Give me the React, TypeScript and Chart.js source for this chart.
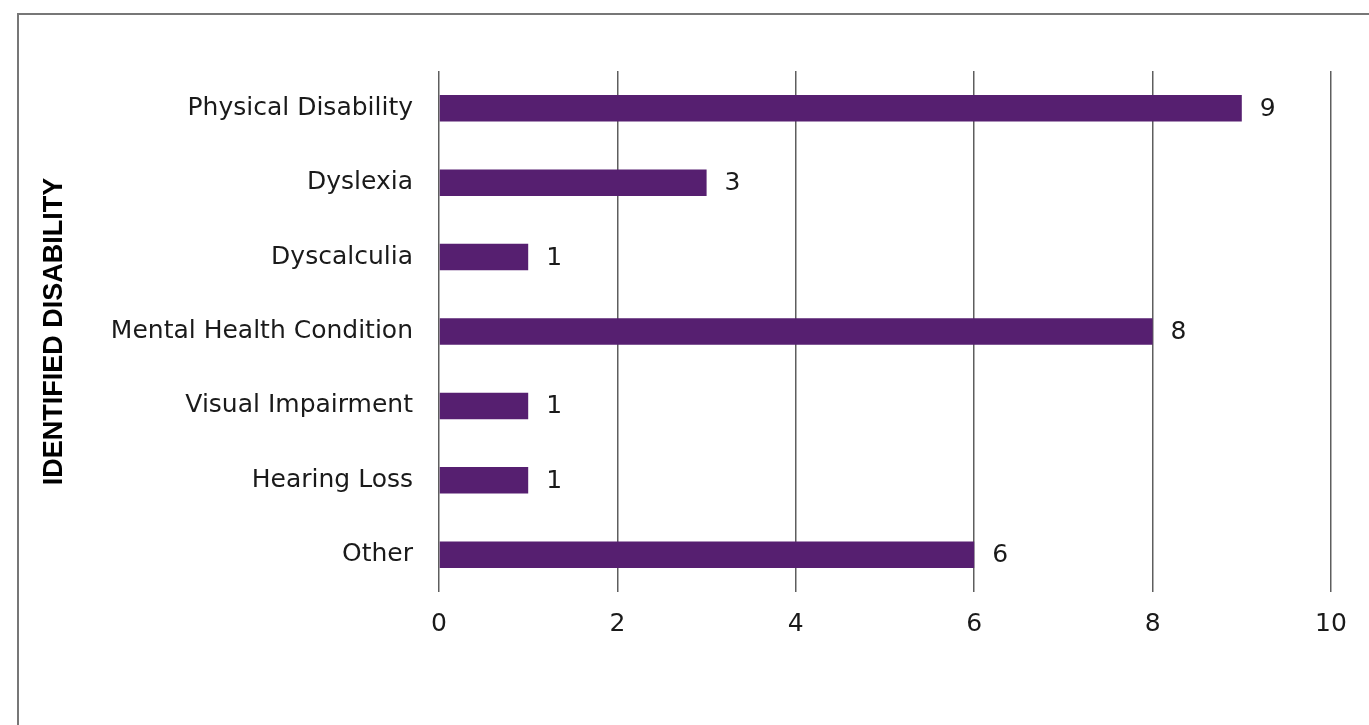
import React, { useEffect, useRef } from "react";
import { Chart, registerables } from "chart.js";

Chart.register(...registerables);

const categories = [
  "Physical Disability",
  "Dyslexia",
  "Dyscalculia",
  "Mental Health Condition",
  "Visual Impairment",
  "Hearing Loss",
  "Other",
];
const counts = [9, 3, 1, 8, 1, 1, 6];
const xTicks = [0, 2, 4, 6, 8, 10];
const axisTitle = "IDENTIFIED DISABILITY";

const FONT = '"DejaVu Sans", Verdana, sans-serif';
const TITLE_FONT = '"Liberation Sans", Arial, sans-serif';
const TEXT = "#1a1a1a";

const valueLabels = {
  id: "valueLabels",
  afterDatasetsDraw(chart: any) {
    const ctx = chart.ctx;
    const meta = chart.getDatasetMeta(0);
    ctx.save();
    ctx.font = `25px ${FONT}`;
    ctx.fillStyle = TEXT;
    ctx.textAlign = "left";
    ctx.textBaseline = "middle";
    meta.data.forEach((bar: any, i: number) => {
      ctx.fillText(String(counts[i]), bar.x + 18, bar.y + 1);
    });
    ctx.restore();
  },
};

export default function App() {
  const ref = useRef<HTMLCanvasElement | null>(null);
  useEffect(() => {
    let chart: any = null;
    let cancelled = false;
    const build = () => {
      if (cancelled || !ref.current) return;
      chart = new Chart(ref.current, {
        type: "bar",
        data: {
          labels: categories,
          datasets: [
            {
              data: counts,
              backgroundColor: "#561f70",
              barPercentage: 0.356,
              categoryPercentage: 1,
            },
          ],
        },
        options: {
          indexAxis: "y",
          animation: false,
          responsive: false,
          events: [],
          layout: { padding: { top: 71, right: 38, left: 0, bottom: 0 } },
          plugins: {
            legend: { display: false },
            tooltip: { enabled: false },
          },
          scales: {
            x: {
              min: 0,
              max: 10,
              afterBuildTicks: (s: any) => {
                s.ticks = xTicks.map((v) => ({ value: v }));
              },
              afterFit: (s: any) => {
                s.height = 133;
              },
              grid: {
                color: "#5e5e5e",
                lineWidth: 1.5,
                drawTicks: false,
              },
              border: { display: false },
              ticks: {
                padding: 17,
                color: TEXT,
                font: { family: FONT, size: 25 },
              },
            },
            y: {
              afterFit: (s: any) => {
                s.width = 439;
              },
              grid: { display: false, drawTicks: false },
              border: { display: false },
              ticks: {
                padding: 26,
                autoSkip: false,
                color: TEXT,
                font: { family: FONT, size: 25 },
              },
              title: {
                display: true,
                text: axisTitle,
                color: "#000",
                padding: { top: 38, bottom: 0 },
                font: { family: TITLE_FONT, size: 27, weight: "bold" },
              },
            },
          },
        },
        plugins: [valueLabels],
      });
    };
    const fonts: any = (document as any).fonts;
    if (fonts && fonts.load) {
      Promise.all([
        fonts.load('25px "DejaVu Sans"'),
        fonts.load('bold 27px "Liberation Sans"'),
      ])
        .catch(() => null)
        .then(build);
    } else {
      build();
    }
    return () => {
      cancelled = true;
      if (chart) chart.destroy();
    };
  }, []);

  return (
    <div
      style={{
        position: "fixed",
        left: 0,
        top: 0,
        width: 1369,
        height: 725,
        overflow: "hidden",
        background: "#fff",
      }}
    >
      <div
        style={{
          position: "absolute",
          left: 17,
          top: 13,
          width: 1400,
          height: 800,
          border: "2px solid #777",
          boxSizing: "border-box",
        }}
      />
      <canvas
        ref={ref}
        width={1369}
        height={725}
        style={{ position: "absolute", left: 0, top: 0, width: 1369, height: 725 }}
      />
    </div>
  );
}
